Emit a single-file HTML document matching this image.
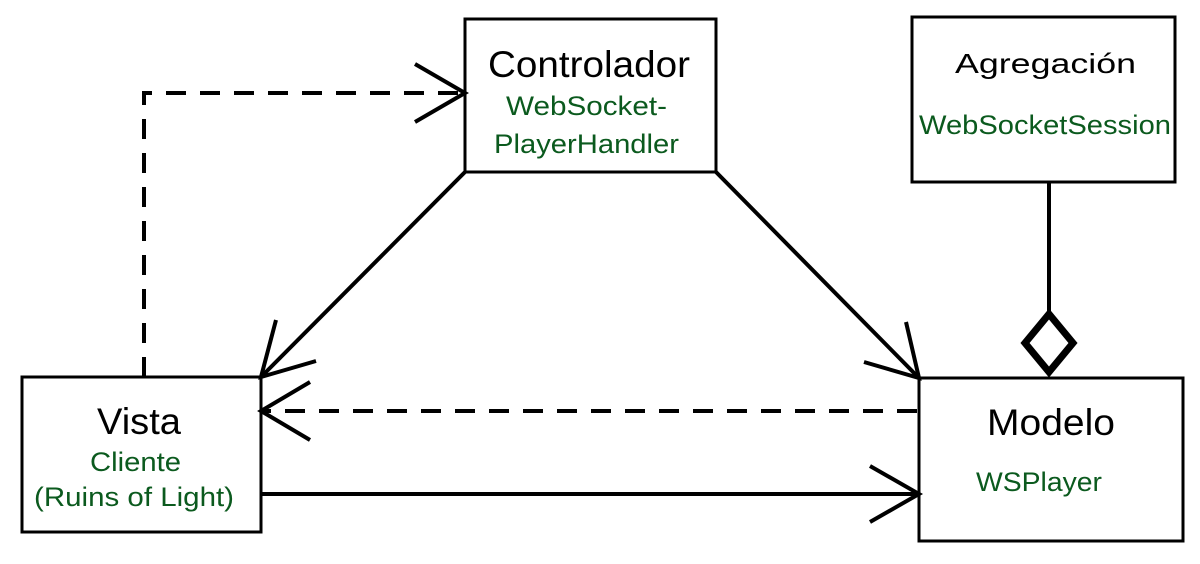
<!DOCTYPE html>
<html><head><meta charset="utf-8"><style>html,body{margin:0;padding:0;background:#fff}svg{display:block}</style></head>
<body>
<svg width="1200" height="564" viewBox="0 0 1200 564" xmlns="http://www.w3.org/2000/svg" font-family="Liberation Sans, sans-serif">
<g fill="#fff" stroke="#000" stroke-width="3">
<rect x="465" y="19" width="251" height="153"/>
<rect x="912" y="17" width="263" height="165"/>
<rect x="22" y="377" width="239" height="155"/>
<rect x="919" y="378" width="264" height="163"/>
</g>
<g fill="none" stroke="#000" stroke-width="4">
<path d="M144 377 V93 H463" stroke-dasharray="20 14"/>
<path d="M415 64 L465 93 L415 122"/>
<path d="M465 172 L261 377"/>
<path d="M276 320 L261 377 L316 361"/>
<path d="M716 172 L919 378"/>
<path d="M906 322 L919 378 L864 362"/>
<path d="M917 411 H263" stroke-dasharray="20 14"/>
<path d="M310 382 L261 411 L310 440"/>
<path d="M261 494 H919"/>
<path d="M870 466 L919 494 L870 522"/>
<path d="M1049 182 V312"/>
<path d="M1049 314 L1073 343 L1049 372 L1025 343 Z" stroke-width="7"/>
</g>
<g lengthAdjust="spacingAndGlyphs">
<text x="488" y="77" font-size="37" fill="#000" textLength="202" lengthAdjust="spacingAndGlyphs">Controlador</text>
<text x="506" y="115" font-size="27" fill="#0b5a1e" textLength="161" lengthAdjust="spacingAndGlyphs">WebSocket-</text>
<text x="494" y="153" font-size="27" fill="#0b5a1e" textLength="185" lengthAdjust="spacingAndGlyphs">PlayerHandler</text>
<text x="955" y="73" font-size="28" fill="#000" textLength="181" lengthAdjust="spacingAndGlyphs">Agregación</text>
<text x="919" y="134" font-size="27" fill="#0b5a1e" textLength="252" lengthAdjust="spacingAndGlyphs">WebSocketSession</text>
<text x="97" y="434" font-size="37" fill="#000" textLength="84" lengthAdjust="spacingAndGlyphs">Vista</text>
<text x="90" y="471" font-size="27" fill="#0b5a1e" textLength="91" lengthAdjust="spacingAndGlyphs">Cliente</text>
<text x="34" y="506" font-size="27" fill="#0b5a1e" textLength="200" lengthAdjust="spacingAndGlyphs">(Ruins of Light)</text>
<text x="987" y="435" font-size="37" fill="#000" textLength="128" lengthAdjust="spacingAndGlyphs">Modelo</text>
<text x="976" y="491" font-size="27" fill="#0b5a1e" textLength="126" lengthAdjust="spacingAndGlyphs">WSPlayer</text>
</g>
</svg>
</body></html>
